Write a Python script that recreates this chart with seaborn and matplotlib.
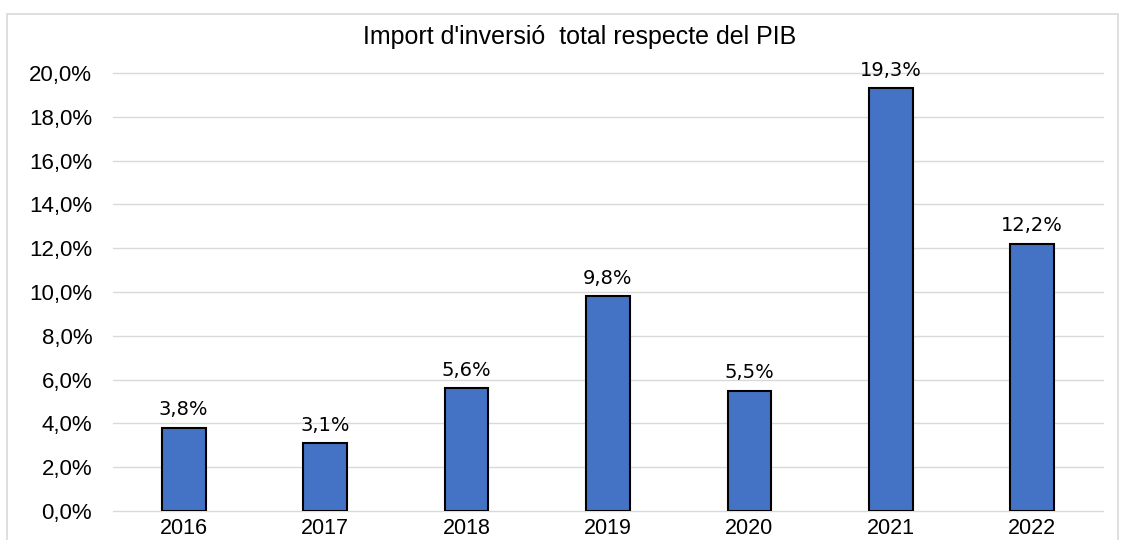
import matplotlib
matplotlib.use("Agg")
import matplotlib.pyplot as plt
import seaborn as sns
import pandas as pd
from matplotlib.patches import Rectangle
from matplotlib.ticker import FuncFormatter, MultipleLocator

years = ["2016", "2017", "2018", "2019", "2020", "2021", "2022"]
values = [3.8, 3.1, 5.6, 9.8, 5.5, 19.3, 12.2]
title = "Import d'inversió  total respecte del PIB"

df = pd.DataFrame({"year": years, "value": values})

sns.set_theme(style="white")
plt.rcParams["font.family"] = ["Liberation Sans", "DejaVu Sans"]

fig = plt.figure(figsize=(11.25, 5.4), dpi=100)
ax = fig.add_axes([113/1125, 1-511/540, (1103-113)/1125, (511-73)/540])

fig.patches.append(Rectangle((7/1125, -0.05), (1118-7)/1125, 1.05-14/540,
                             transform=fig.transFigure, fill=False,
                             edgecolor="#D9D9D9", linewidth=1.2))

sns.barplot(data=df, x="year", y="value", ax=ax, color="#4472C4",
            edgecolor="black", linewidth=1.5, width=0.31, saturation=1)

ax.set_ylim(0, 20)
ax.yaxis.set_major_locator(MultipleLocator(2))
ax.yaxis.set_major_formatter(FuncFormatter(lambda v, p: f"{v:.1f}%".replace(".", ",")))
ax.set_axisbelow(True)
ax.grid(axis="y", color="#D9D9D9", linewidth=1)
for gl in ax.get_ygridlines():
    gl.set_clip_on(False)
for s in ax.spines.values():
    s.set_visible(False)
ax.set_xlabel("")
ax.set_ylabel("")
ax.tick_params(axis="both", length=0, labelsize=16, colors="black")
ax.tick_params(axis="y", pad=15)
ax.tick_params(axis="x", pad=5, labelsize=15.5)

ax.bar_label(ax.containers[0], labels=[f"{v:.1f}%".replace(".", ",") for v in values],
             padding=6, fontsize=14, family="DejaVu Sans", color="black")

fig.text(580/1125, 1-37/540, title, ha="center", va="center", fontsize=18, color="black")

fig.savefig("out.png", dpi=100)
